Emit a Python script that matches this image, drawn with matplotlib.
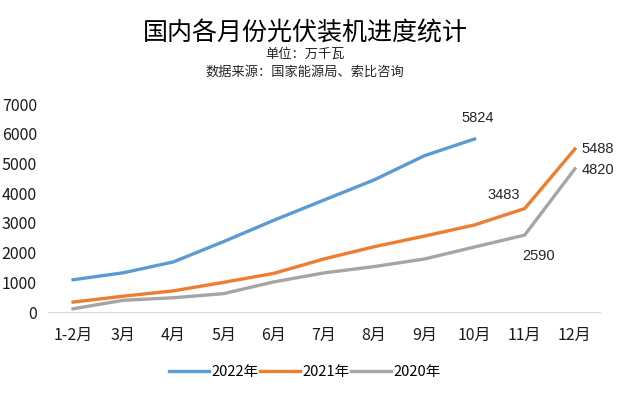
import matplotlib
matplotlib.use('Agg')
import matplotlib.pyplot as plt

plt.rcParams['font.family'] = ['Noto Sans CJK SC', 'DejaVu Sans']

months = ['1-2月', '3月', '4月', '5月', '6月', '7月', '8月', '9月', '10月', '11月', '12月']
y2022 = [1086, 1321, 1688, 2371, 3088, 3769, 4447, 5260, 5824]
y2021 = [336, 533, 713, 1000, 1301, 1787, 2198, 2556, 2931, 3483, 5488]
y2020 = [110, 395, 481, 620, 1015, 1317, 1530, 1785, 2189, 2590, 4820]

fig = plt.figure(figsize=(6.4, 3.94), dpi=100)
ax = fig.add_axes([0.075, 0.208, 0.8625, 0.528])

xs = list(range(len(months)))
ax.plot(xs[:len(y2022)], y2022, color='#5B9BD5', lw=2.4, label='2022年')
ax.plot(xs, y2021, color='#ED7D31', lw=2.4, label='2021年')
ax.plot(xs, y2020, color='#A5A5A5', lw=2.4, label='2020年')

# data labels
lab = dict(fontsize=10.5, color='#262626', family=['Liberation Sans', 'DejaVu Sans'])
ax.annotate(str(y2022[-1]), (xs[len(y2022) - 1], y2022[-1]), xytext=(2, 10),
            textcoords='offset points', ha='center', va='bottom', **lab)
ax.annotate(str(y2021[-1]), (xs[-1], y2021[-1]), xytext=(5, 0),
            textcoords='offset points', ha='left', va='center', **lab)
ax.annotate(str(y2020[-1]), (xs[-1], y2020[-1]), xytext=(5, -1),
            textcoords='offset points', ha='left', va='center', **lab)
ax.annotate(str(y2021[-2]), (xs[-2], y2021[-2]), xytext=(-15, 5),
            textcoords='offset points', ha='center', va='bottom', **lab)
ax.annotate(str(y2020[-2]), (xs[-2], y2020[-2]), xytext=(10, -10),
            textcoords='offset points', ha='center', va='top', **lab)

ax.set_xlim(-0.5, len(months) - 0.5)
ax.set_ylim(0, 7000)
ax.set_yticks(range(0, 7001, 1000))
ax.set_xticks(xs)
ax.set_xticklabels(months)
ax.tick_params(length=0, labelsize=11.5, colors='#1a1a1a')
ax.tick_params(axis='x', pad=11)
ax.tick_params(axis='y', pad=8)
for s in ['top', 'right', 'left']:
    ax.spines[s].set_visible(False)
ax.spines['bottom'].set_color('#D9D9D9')

fig.text(0.477, 0.915, '国内各月份光伏装机进度统计', ha='center', va='center', fontsize=18, color='#000000')
fig.text(0.477, 0.862, '单位：万千瓦', ha='center', va='center', fontsize=9.5, color='#262626')
fig.text(0.477, 0.818, '数据来源：国家能源局、索比咨询', ha='center', va='center', fontsize=9.5, color='#262626')

fig.legend(loc='center', bbox_to_anchor=(0.477, 0.055), ncol=3, frameon=False,
           fontsize=10.5, handlelength=2.7, handletextpad=0.2, columnspacing=0.1)

fig.savefig('out.png', dpi=100)
